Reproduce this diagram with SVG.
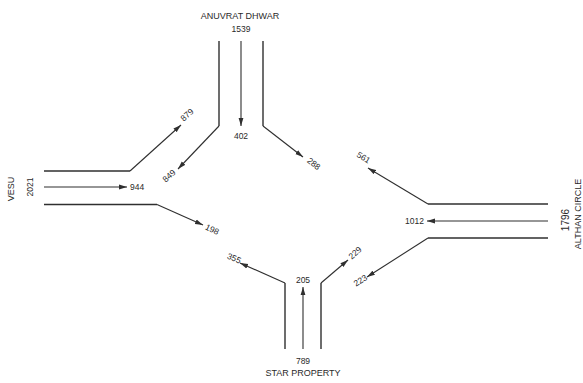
<svg xmlns="http://www.w3.org/2000/svg" width="583" height="383" viewBox="0 0 583 383">
  <style>
    .road { fill: none; stroke: #2f2f2f; stroke-width: 1.4; }
    .flow { fill: none; stroke: #2f2f2f; stroke-width: 1.1; marker-end: url(#arr); }
    text { font-family: "Liberation Sans", Arial, sans-serif; font-size: 8.5px; fill: #2a2a2a; }
    .name { font-size: 9px; }
  </style>
  <defs>
    <marker id="arr" viewBox="0 0 8 6" refX="8" refY="3" markerWidth="8" markerHeight="6" markerUnits="userSpaceOnUse" orient="auto">
      <path d="M0,0.6 L8,3 L0,5.4 Z" fill="#2f2f2f"/>
    </marker>
  </defs>
  <rect width="583" height="383" fill="#ffffff"/>

  <!-- road edges -->
  <g id="connectors">
    <!-- north arm -->
    <path class="road" d="M219,41 V126"/>
    <path class="road" d="M263,41 V126"/>
    <!-- west arm -->
    <path class="road" d="M44,171 H130"/>
    <path class="road" d="M44,204.5 H157"/>
    <!-- east arm -->
    <path class="road" d="M548,204 H428"/>
    <path class="road" d="M548,238 H428"/>
    <!-- south arm -->
    <path class="road" d="M285,349 V283"/>
    <path class="road" d="M321,349 V283"/>

    <!-- turning and through movements -->
    <path class="flow" d="M241,41 V126"/>
    <path class="flow" d="M219,126 L178,169"/>
    <path class="flow" d="M263,126 L303,157"/>

    <path class="flow" d="M130,171 L181,125"/>
    <path class="flow" d="M44,187 H127"/>
    <path class="flow" d="M157,204.5 L203,225"/>

    <path class="flow" d="M428,204 L368,168"/>
    <path class="flow" d="M548,221 H427"/>
    <path class="flow" d="M428,238 L367,277"/>

    <path class="flow" d="M303,349 V287"/>
    <path class="flow" d="M285,283 L240,263"/>
    <path class="flow" d="M321,283 L348,260"/>
  </g>

  <g id="north">
    <text class="name" x="240" y="19" text-anchor="middle">ANUVRAT DHWAR</text>
    <text x="241" y="32" text-anchor="middle">1539</text>
    <text x="241" y="139" text-anchor="middle">402</text>
    <text transform="translate(189,117) rotate(-42)" text-anchor="middle">879</text>
    <text transform="translate(171,178) rotate(-42)" text-anchor="middle">849</text>
    <text transform="translate(312,166) rotate(38)" text-anchor="middle">288</text>
  </g>

  <g id="west">
    <text class="name" transform="translate(14,189) rotate(-90)" text-anchor="middle">VESU</text>
    <text transform="translate(33,187) rotate(-90)" text-anchor="middle">2021</text>
    <text x="130" y="190">944</text>
    <text transform="translate(211,232) rotate(26)" text-anchor="middle">198</text>
  </g>

  <g id="east">
    <text class="name" transform="translate(581,214) rotate(-90)" text-anchor="middle">ALTHAN CIRCLE</text>
    <text transform="translate(569,220) rotate(-90)" text-anchor="middle" style="font-size:10px">1796</text>
    <text x="424" y="224" text-anchor="end">1012</text>
    <text transform="translate(362,160) rotate(32)" text-anchor="middle">561</text>
    <text transform="translate(362,283) rotate(-33)" text-anchor="middle">223</text>
  </g>

  <g id="south">
    <text x="303" y="283" text-anchor="middle">205</text>
    <text transform="translate(233,261) rotate(22)" text-anchor="middle">355</text>
    <text transform="translate(357,255) rotate(-42)" text-anchor="middle">229</text>
    <text x="303" y="364" text-anchor="middle">789</text>
    <text class="name" x="303" y="376" text-anchor="middle">STAR PROPERTY</text>
  </g>
</svg>
